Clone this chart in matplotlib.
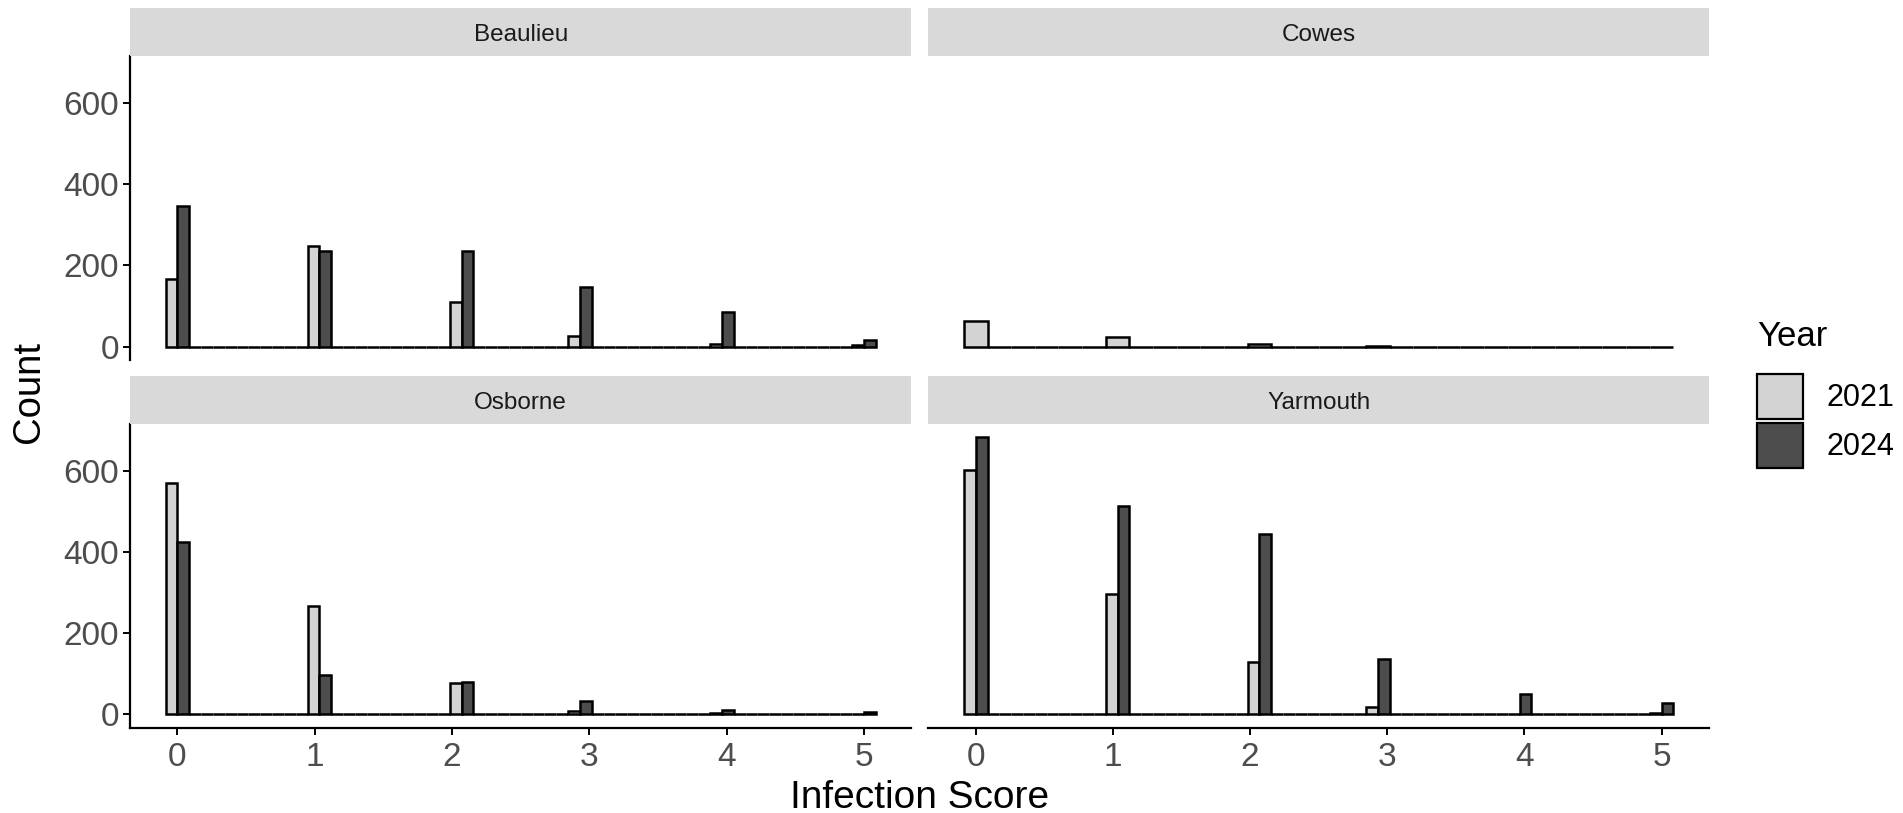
import numpy as np
import matplotlib
matplotlib.use("Agg")
import matplotlib.pyplot as plt
from matplotlib.patches import Rectangle

plt.rcParams['font.family'] = ['Liberation Sans', 'DejaVu Sans']

scores = [0, 1, 2, 3, 4, 5]
years = ['2021', '2024']
sites = ['Beaulieu', 'Cowes', 'Osborne', 'Yarmouth']

# counts per infection score, per site and year (None = no data that year)
beaulieu_2021 = [166, 249, 110, 27, 7, 3]
beaulieu_2024 = [347, 235, 236, 147, 85, 16]
cowes_2021 = [64, 23, 7, 2, 0, 0]
cowes_2024 = None
osborne_2021 = [570, 267, 78, 8, 3, 1]
osborne_2024 = [424, 98, 79, 34, 11, 7]
yarmouth_2021 = [603, 297, 130, 18, 0, 4]
yarmouth_2024 = [683, 514, 446, 137, 49, 27]

counts = {
    'Beaulieu': [beaulieu_2021, beaulieu_2024],
    'Cowes': [cowes_2021, cowes_2024],
    'Osborne': [osborne_2021, osborne_2024],
    'Yarmouth': [yarmouth_2021, yarmouth_2024],
}
fills = {'2021': '#D3D3D3', '2024': '#4D4D4D'}

# ggplot-style 30 bins over the data range
nbins = 30
bw = (max(scores) - min(scores)) / (nbins - 1)
edges = np.linspace(min(scores) - bw / 2, max(scores) + bw / 2, nbins + 1)
xpad = 0.05 * (edges[-1] - edges[0])
ymax = max(max(c) for pair in counts.values() for c in pair if c is not None)

W, H = 1903, 813
fig = plt.figure(figsize=(W / 100, H / 100), dpi=100)

# panel boxes in pixels: (left, top, right, bottom)
boxes = {
    'Beaulieu': (130, 55.8, 911.4, 360.4),
    'Cowes': (928.4, 55.8, 1708.8, 360.4),
    'Osborne': (130, 423.6, 911.4, 728.2),
    'Yarmouth': (928.4, 423.6, 1708.8, 728.2),
}
strip_h = 47.3

for i, site in enumerate(sites):
    l, t, r, b = boxes[site]
    ax = fig.add_axes([l / W, 1 - b / H, (r - l) / W, (b - t) / H])
    data, w, cols = [], [], []
    for yr, c in zip(years, counts[site]):
        if c is None:
            continue
        data.append(scores)
        w.append(c)
        cols.append(fills[yr])
    ax.hist(data, bins=edges, weights=w, color=cols, edgecolor='black',
            linewidth=1.8, rwidth=1.0)
    ax.set_xlim(edges[0] - xpad, edges[-1] + xpad)
    ax.set_ylim(-0.05 * ymax, 1.05 * ymax)
    for s in ax.spines.values():
        s.set_visible(False)
    ax.tick_params(colors='black', labelcolor='#4D4D4D', labelsize=24,
                   width=1.4, length=5)
    if i % 2 == 0:
        ax.spines['left'].set_visible(True)
        ax.spines['left'].set_linewidth(1.6)
        ax.set_yticks([0, 200, 400, 600])
        ax.tick_params(axis='y', pad=3)
    else:
        ax.set_yticks([])
    if i >= 2:
        ax.spines['bottom'].set_visible(True)
        ax.spines['bottom'].set_linewidth(1.6)
        ax.set_xticks(scores)
        ax.tick_params(axis='x', pad=5)
    else:
        ax.set_xticks([])

    # facet strip
    sax = fig.add_axes([l / W, 1 - t / H, (r - l) / W, strip_h / H])
    sax.set_facecolor('#D9D9D9')
    sax.set_xticks([])
    sax.set_yticks([])
    for s in sax.spines.values():
        s.set_visible(False)
    sax.text(0.5, 0.44, site, ha='center', va='center', fontsize=17.5,
             color='#1A1A1A', transform=sax.transAxes)

fig.text(920 / W, 1 - 798 / H, 'Infection Score', ha='center', va='center',
         fontsize=28)
fig.text(29 / W, 1 - 392 / H, 'Count', ha='center', va='center',
         rotation=90, fontsize=27.5)

# legend
fig.text(1757 / W, 1 - 336 / H, 'Year', ha='left', va='center', fontsize=25)
for k, yr in enumerate(years):
    top = 374 + k * 49
    fig.patches.append(Rectangle((1757 / W, 1 - (top + 45) / H), 46 / W, 45 / H,
                                 transform=fig.transFigure, facecolor=fills[yr],
                                 edgecolor='black', linewidth=1.6))
    fig.text(1826 / W, 1 - (top + 24) / H, yr, ha='left', va='center',
             fontsize=22)

fig.savefig('out.png', dpi=100, facecolor='white')
